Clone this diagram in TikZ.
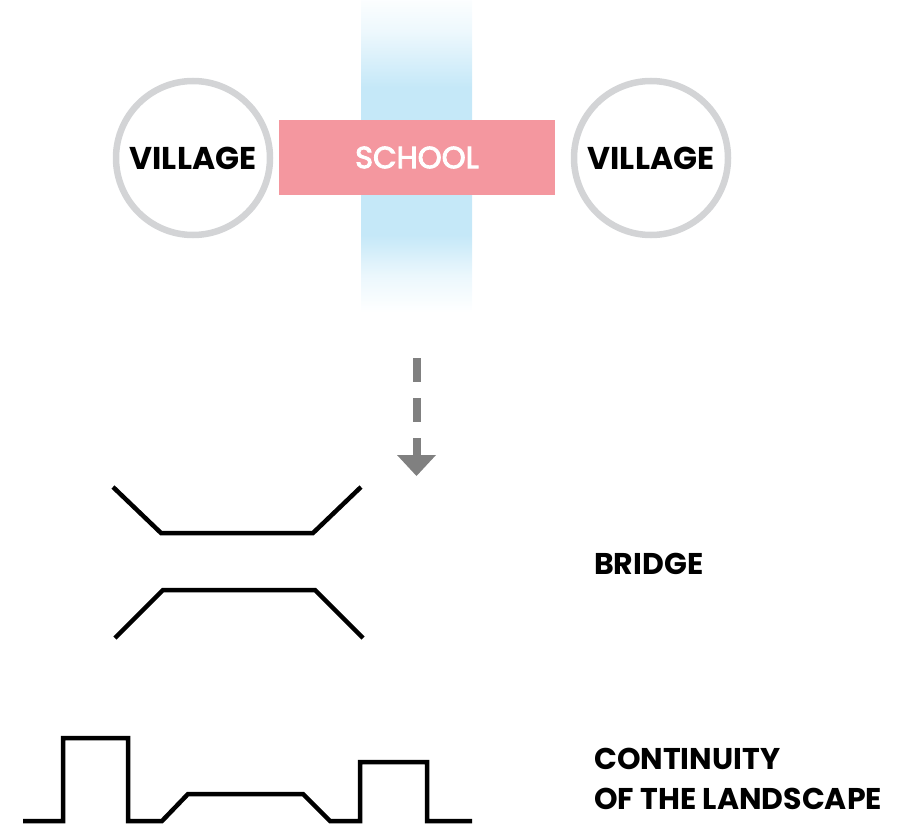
\documentclass[tikz,border=0pt]{standalone}
\usepackage{fontspec}
\setmainfont{Poppins}
\newfontfamily\schoolfont[FakeBold=3]{Poppins}
\definecolor{stripblue}{HTML}{C5E8F8}
\definecolor{schoolpink}{HTML}{F4979F}
\definecolor{ringgray}{HTML}{D3D4D6}
\definecolor{arrowgray}{HTML}{808080}
\pgfdeclareverticalshading{stripfade}{100bp}{%
  color(0bp)=(white);
  color(25bp)=(white);
  color(31bp)=(stripblue!35!white);
  color(37.3bp)=(stripblue);
  color(61bp)=(stripblue);
  color(70bp)=(stripblue!30!white);
  color(75bp)=(stripblue!6!white);
  color(100bp)=(white)}
\begin{document}
\begin{tikzpicture}[x=1pt,y=-1pt,
  village/.style={circle,draw=ringgray,line width=6.5pt,minimum size=154pt,inner sep=0pt,
    font=\fontsize{31.5}{36}\selectfont\bfseries,text=black},
  school/.style={fill=schoolpink,minimum width=276pt,minimum height=75pt,inner sep=0pt,
    font=\schoolfont\fontsize{30.5}{36}\selectfont,text=white},
  label/.style={anchor=west,inner sep=0pt,align=left,
    font=\fontsize{30}{40}\selectfont\bfseries,text=black},
  shapeline/.style={line width=4.5pt,black,line join=miter,line cap=butt}]
\useasboundingbox (0,0) rectangle (908,824);
% river strip
\shade[shading=stripfade] (361,0) rectangle (472,312);
% nodes
\node[village] (v1) at (193,158) {VILLAGE};
\node[village] (v2) at (651,158) {VILLAGE};
\node[school] (s) at (417,157.5) {SCHOOL};
% arrow
\coordinate (a1) at (416.5,358);
\coordinate (a2) at (416.5,455);
\coordinate (a3) at (416.5,476);
\draw[arrowgray,line width=8pt,dash pattern=on 24pt off 16pt] (a1) -- (a2);
\fill[arrowgray] ([xshift=-19.5pt]a2) -- ([xshift=19.5pt]a2) -- (a3) -- cycle;
% bridge
\draw[shapeline] (113,487) -- (161,533) -- (313,533) -- (361,487);
\draw[shapeline] (115,638) -- (163,590) -- (315,590) -- (363,638);
% landscape
\draw[shapeline] (23,821) -- (63,821) -- (63,738) -- (128,738) -- (128,821) -- (162,821)
  -- (188,794) -- (303,794) -- (330,821) -- (360,821) -- (360,762) -- (427,762)
  -- (427,821) -- (472,821);
% labels
\node[label] (b) at (594,563.5) {BRIDGE};
\node[label] (c) at (594,778.5) {CONTINUITY\\OF THE LANDSCAPE};
\end{tikzpicture}
\end{document}
